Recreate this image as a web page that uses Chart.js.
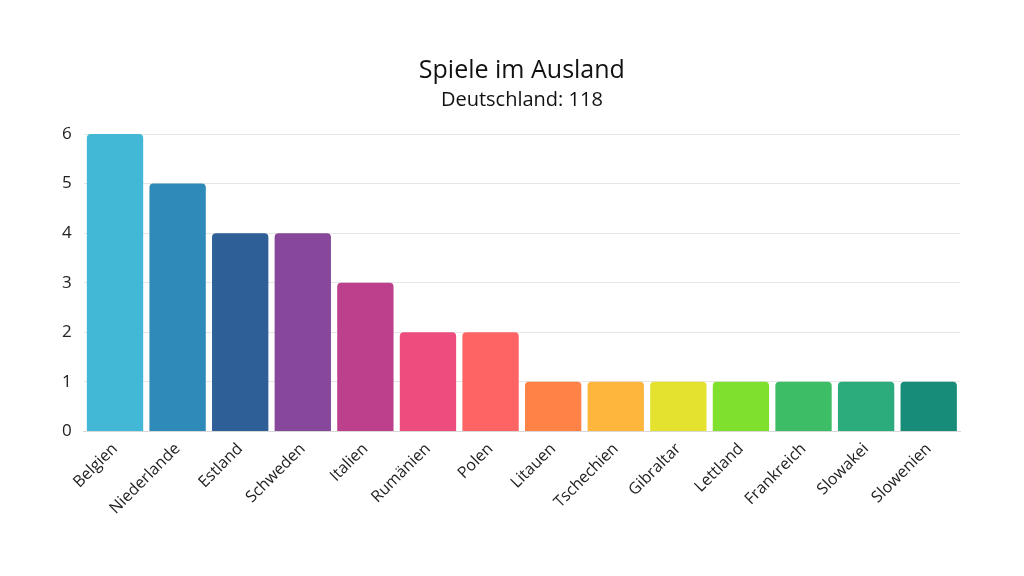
<!DOCTYPE html>
<html>
<head>
<meta charset="utf-8">
<script src="https://cdn.jsdelivr.net/npm/chart.js@4.4.0/dist/chart.umd.min.js"></script>
<style>
  html, body { margin: 0; padding: 0; background: #fff; }
  #wrap { width: 1024px; height: 576px; }
</style>
</head>
<body>
<div id="wrap"><canvas id="chart"></canvas></div>
<script>
const countries = ['Belgien', 'Niederlande', 'Estland', 'Schweden', 'Italien', 'Rumänien', 'Polen',
  'Litauen', 'Tschechien', 'Gibraltar', 'Lettland', 'Frankreich', 'Slowakei', 'Slowenien'];
const games = [6, 5, 4, 4, 3, 2, 2, 1, 1, 1, 1, 1, 1, 1];
const barColors = ['#42B7D6', '#2D8AB9', '#2E5F97', '#87479A', '#BC408B', '#EC4D7E', '#FF6464',
  '#FF8246', '#FFB63D', '#E4E22E', '#7FE12D', '#3DBE66', '#2CAB7D', '#178C79'];
const yTicks = [0, 1, 2, 3, 4, 5, 6];

new Chart(document.getElementById('chart').getContext('2d'), {
  type: 'bar',
  data: {
    labels: countries,
    datasets: [{
      data: games,
      backgroundColor: barColors,
      borderWidth: 0,
      borderRadius: 4,
      borderSkipped: 'bottom',
      barPercentage: 0.9,
      categoryPercentage: 1.0
    }]
  },
  options: {
    responsive: true,
    maintainAspectRatio: false,
    animation: false,
    layout: { padding: { left: 50, right: 64, top: 48, bottom: 50 } },
    plugins: {
      legend: { display: false },
      tooltip: { enabled: false },
      title: {
        display: true,
        fullSize: false,
        text: 'Spiele im Ausland',
        color: '#111',
        font: { family: 'Open Sans', size: 25, weight: 'normal' },
        padding: { top: 8, bottom: 2 }
      },
      subtitle: {
        display: true,
        fullSize: false,
        text: 'Deutschland: 118',
        color: '#111',
        font: { family: 'Open Sans', size: 20, weight: 'normal' },
        padding: { bottom: 22 }
      }
    },
    scales: {
      x: {
        grid: { display: false, drawTicks: false },
        border: { display: true, color: '#d8d8d8' },
        ticks: {
          color: '#222',
          font: { family: 'Open Sans', size: 16 },
          maxRotation: 45,
          minRotation: 45,
          padding: 8
        }
      },
      y: {
        min: 0,
        max: 6,
        afterBuildTicks: (axis) => { axis.ticks = yTicks.map(v => ({ value: v })); },
        grid: { color: '#e6e6e6', drawTicks: false },
        border: { display: false },
        ticks: {
          color: '#222',
          font: { family: 'Open Sans', size: 17 },
          padding: 12
        }
      }
    }
  }
});
</script>
</body>
</html>
